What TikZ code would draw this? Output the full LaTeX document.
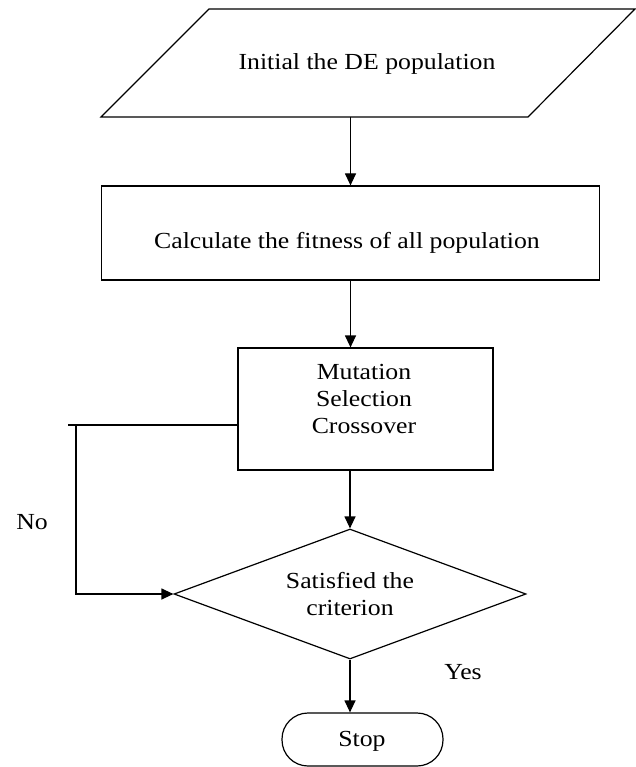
\documentclass[tikz,border=0pt]{standalone}
\usepackage{fontspec}
\setmainfont{Liberation Serif}[FakeStretch=1.12]
\usetikzlibrary{arrows.meta,shapes.geometric}
\begin{document}
\begin{tikzpicture}[x=1pt,y=-1pt,
  line width=1.2pt,
  txt/.style={font=\fontsize{23}{27}\selectfont, inner sep=0pt, align=center},
  boxshape/.style={draw, inner sep=0pt},
  arr/.style={-{Triangle[length=12pt,width=11pt]}}]
\useasboundingbox (0,0) rectangle (635,767);
% parallelogram
\draw (101,117) -- (209,9) -- (635,9) -- (528,117) -- cycle;
\node[txt] (inittxt) at (367,64) {Initial the DE population};
\coordinate (initb) at (350.5,117);
% calculate box
\node[boxshape, minimum width=498pt, minimum height=94pt] (calc) at (350.5,233) {};
\node[txt] (calctxt) at (347,243) {Calculate the fitness of all population};
% mutation box
\node[boxshape, minimum width=255pt, minimum height=122pt] (mut) at (365.5,409) {};
\node[txt] (muttxt) at (364,399) {Mutation\\Selection\\Crossover};
% diamond
\node[boxshape, diamond, minimum width=352pt, minimum height=130pt] (dia) at (350,594) {};
\node[txt] (diatxt) at (350,594) {Satisfied the\\criterion};
% stop
\node[boxshape, rounded corners=26pt, minimum width=161pt, minimum height=53pt] (stop) at (362.5,739.5) {};
\node[txt] (stoptxt) at (362,741) {Stop};
% labels
\node[txt] (no) at (32,522) {No};
\node[txt] (yes) at (463,672) {Yes};
% connectors
\draw[arr] (initb) -- (initb |- calc.north);
\draw[arr] (calc.south) -- (calc.south |- mut.north);
\draw[arr] (dia.north |- mut.south) -- (dia.north);
\draw[arr] (dia.south) -- (dia.south |- stop.north);
\coordinate (fbtop) at (76,425);
\coordinate (fbend) at (68,425);
\draw (mut.west |- fbtop) -- (fbend);
\draw[arr] (fbtop) -- (fbtop |- dia.west) -- (dia.west);
\end{tikzpicture}
\end{document}
